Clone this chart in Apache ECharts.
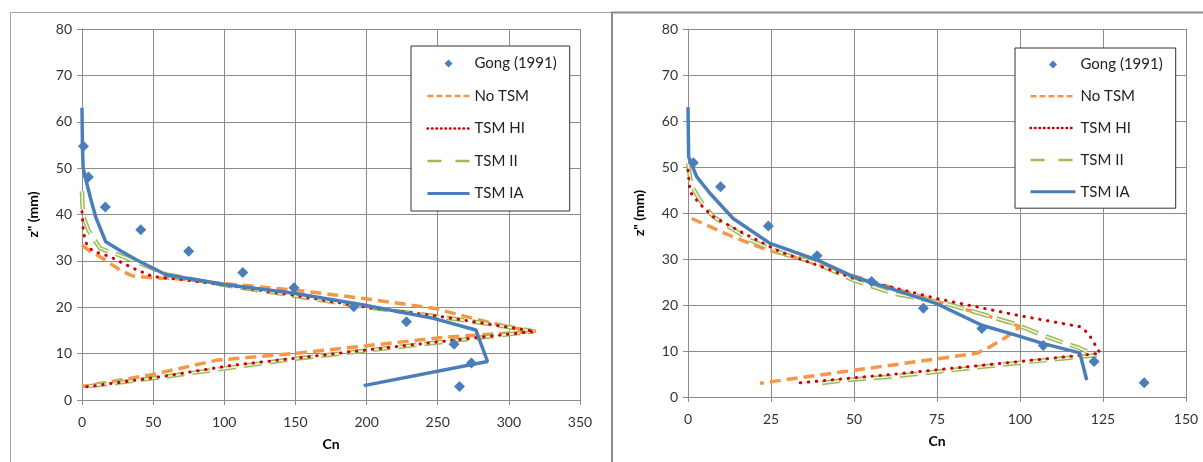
<!DOCTYPE html>
<html><head><meta charset="utf-8">
<script src="https://cdn.jsdelivr.net/npm/echarts@6/dist/echarts.min.js"></script>
<style>html,body{margin:0;padding:0;background:#fff}#c{width:1203px;height:462px}</style>
</head><body><div id="c"></div>
<script>
// ---- names / axes ----
const seriesNames = ['Gong (1991)', 'No TSM', 'TSM HI', 'TSM II', 'TSM IA'];
const xTitle = 'Cn';
const yTitle = 'z" (mm)';
const xLeftMax = 350, xLeftStep = 50;
const xRightMax = 150, xRightStep = 25;
const yMax = 80, yStep = 10;

// ---- left panel data [Cn, z] ----
const gongLeft = [[1,54.7],[4.5,48.1],[16.4,41.6],[41.3,36.7],[75,32.1],[113,27.5],[149,24.2],[191,20.1],[228,16.9],[261.5,12],[273.7,8],[265.3,2.9]];
const noTsmLeft = [[0,33.4],[5,32.2],[12.7,30.9],[20,29.4],[26.8,28],[35,26.8],[48,26.4],[69,26.1],[100,25.1],[149,23.7],[198,21.9],[247,19.8],[280,17.2],[304,15.5],[319,14.8],[257,13.6],[200,11.7],[151,10.1],[95,8.6],[48,5.4],[0,2.9]];
const tsmHiLeft = [[0,40.6],[0.8,37],[2.1,34.5],[4.5,32.8],[10,31.9],[19.7,30.9],[36,28.4],[50,26.6],[69,26],[100,24.8],[149,22.6],[198,20.1],[250,18.1],[289,16.2],[318,14.8],[261,12.9],[200.5,10.8],[150,9],[106,7.5],[55,5],[0,2.7]];
const tsmIiLeft = [[0,45],[0.3,42],[1,39.5],[4.5,36.6],[12.7,32.7],[29,30.9],[50,28.3],[60,27],[100,24.8],[149,22.5],[198,20.1],[250,18],[289,16.3],[318,14.8],[261,12.8],[150,8.9],[55,4.9],[0,2.8]];
const tsmIaLeft = [[0,63],[0.3,55],[0.8,50],[2.8,47.4],[6,43.5],[9.6,39.5],[16.7,34.1],[27,32.2],[38.5,30.2],[59,27],[100,24.9],[149,23],[198,20.5],[247,17.6],[276.8,15.1],[285,8.3],[198,3.1]];

// ---- right panel data [Cn, z] ----
const gongRight = [[1.6,50.9],[9.8,45.7],[24.2,37.2],[38.9,30.7],[55.3,25.1],[70.9,19.3],[88.5,14.9],[107,11.2],[122.3,7.7],[137.4,3.1]];
const noTsmRight = [[1.1,38.8],[13.6,34.8],[23.7,32],[31.7,30.5],[45,27.4],[57.8,24.6],[75,20.8],[90,17.7],[100,15.3],[96,13.1],[91,10.9],[87,9.5],[58,6.6],[21.7,3]];
const tsmHiRight = [[0,49.3],[0.6,44.6],[3.5,42],[7.6,39.2],[16.7,35.6],[27.7,31.6],[38.8,28.7],[49.8,25.8],[62.9,23.6],[74.9,21.4],[99,17.8],[118,15.3],[120.5,13.9],[123,10.9],[124.2,9.5],[101,7.8],[63.9,5.1],[32.7,3]];
const tsmIiRight = [[0,50.8],[1,46],[3.6,42.8],[7.6,39.2],[18.7,34.1],[29.7,30.9],[37.7,29.4],[49.8,25.4],[61.9,22.5],[77.9,20.3],[98,16],[108,13.1],[118,10.6],[123,9.1],[98,7.3],[60.8,4.4],[47.8,3.7],[39.8,3]];
const tsmIaRight = [[0,63],[0.2,52.2],[2.6,47.9],[6.6,44.3],[13.6,38.8],[24.7,33.4],[38.8,29.8],[49.8,26.2],[57.8,24.3],[63.9,22.9],[74.9,20.3],[88.5,15.6],[98,13.6],[107,11.6],[118,9.6],[120.1,3.7]];

// ---- styles ----
const FONT = 'Lato, "Liberation Sans", sans-serif';
const C_BLUE = '#4A7EBB', C_ORANGE = '#F79646', C_RED = '#D40000', C_GREEN = '#9BBB59', C_GREEN_IN = '#EEF3E3';
const GRID_C = '#8C8C8C';

function axisX(gi, max, step) {
  return {
    type: 'value', gridIndex: gi, min: 0, max: max, interval: step,
    name: xTitle, nameLocation: 'middle', nameGap: 37,
    nameTextStyle: { fontFamily: FONT, fontWeight: 'bold', fontSize: 14, color: '#000' },
    axisLine: { show: true, lineStyle: { color: GRID_C, width: 1 } },
    axisTick: { show: true, length: 5, lineStyle: { color: GRID_C } },
    axisLabel: { margin: 15, fontFamily: FONT, fontSize: 14, color: '#333' },
    splitLine: { show: true, lineStyle: { color: GRID_C, width: 1 } }
  };
}
function axisY(gi) {
  return {
    type: 'value', gridIndex: gi, min: 0, max: yMax, interval: yStep,
    name: yTitle, nameLocation: 'middle', nameGap: 42, nameRotate: 90,
    nameTextStyle: { fontFamily: FONT, fontWeight: 'bold', fontSize: 14, color: '#000' },
    axisLine: { show: true, lineStyle: { color: GRID_C, width: 1 } },
    axisTick: { show: true, length: 5, lineStyle: { color: GRID_C } },
    axisLabel: { margin: 10, fontFamily: FONT, fontSize: 14, color: '#333' },
    splitLine: { show: true, lineStyle: { color: GRID_C, width: 1 } }
  };
}
function seriesFor(idx, gong, noTsm, hi, ii, ia) {
  const base = { xAxisIndex: idx, yAxisIndex: idx, animation: false };
  return [
    Object.assign({ type: 'scatter', name: seriesNames[0], data: gong, symbol: 'diamond', symbolSize: 11,
      itemStyle: { color: C_BLUE, opacity: 1 }, z: 3 }, base),
    Object.assign({ type: 'line', name: seriesNames[1], data: noTsm, symbol: 'none',
      lineStyle: { color: C_ORANGE, width: 3.5, type: [11, 6] }, itemStyle: { color: C_ORANGE }, z: 2 }, base),
    Object.assign({ type: 'line', name: seriesNames[3], data: ii, symbol: 'none',
      lineStyle: { color: C_GREEN, width: 4.5, type: [18, 8] }, itemStyle: { color: C_GREEN }, z: 2 }, base),
    Object.assign({ type: 'line', name: 'TSM II inner', data: ii, symbol: 'none', silent: true,
      lineStyle: { color: C_GREEN_IN, width: 1.6, type: [18, 8] }, itemStyle: { color: C_GREEN_IN }, z: 2 }, base),
    Object.assign({ type: 'line', name: seriesNames[2], data: hi, symbol: 'none',
      lineStyle: { color: C_RED, width: 3, type: [0.5, 7.5], cap: 'round' }, itemStyle: { color: C_RED }, z: 2 }, base),
    Object.assign({ type: 'line', name: seriesNames[4], data: ia, symbol: 'none',
      lineStyle: { color: C_BLUE, width: 3.5 }, itemStyle: { color: C_BLUE }, z: 2 }, base)
  ];
}
const diamondIcon = 'path://M0,0M16,16M8,3.4L12.6,8L8,12.6L3.4,8Z';
const hideSym = { color: 'rgba(0,0,0,0)', opacity: 0, borderWidth: 0 };
function legendFor(left, top, w, gap, pad) {
  return {
    orient: 'vertical', left: left, top: top, itemWidth: w, itemHeight: 14, itemGap: gap,
    padding: pad, backgroundColor: '#fff', borderColor: '#333', borderWidth: 1, selectedMode: false,
    textStyle: { fontFamily: FONT, fontSize: 15, color: '#222' },
    data: [
      { name: seriesNames[0], icon: diamondIcon },
      { name: seriesNames[1], itemStyle: hideSym, lineStyle: { width: 2.5, type: [6, 3] } },
      { name: seriesNames[2], itemStyle: hideSym, lineStyle: { width: 2.5, type: [0.5, 4], cap: 'round' } },
      { name: seriesNames[3], itemStyle: hideSym, lineStyle: { width: 2.5, type: [14, 14] } },
      { name: seriesNames[4], itemStyle: hideSym, lineStyle: { width: 3 } }
    ]
  };
}

const chart = echarts.init(document.getElementById('c'), null, { renderer: 'canvas' });
chart.setOption({
  animation: false,
  backgroundColor: '#fff',
  grid: [
    { left: 82, top: 29, width: 498, height: 371 },
    { left: 688, top: 29, width: 498, height: 368 }
  ],
  xAxis: [axisX(0, xLeftMax, xLeftStep), axisX(1, xRightMax, xRightStep)],
  yAxis: [axisY(0), axisY(1)],
  legend: [
    legendFor(411, 46, 42, 17.5, [10, 13, 10, 15]),
    legendFor(1015, 48, 45, 16.8, [9, 13, 9, 14])
  ],
  graphic: [
    { type: 'rect', z: 0, silent: true, shape: { x: 10.5, y: 12.5, width: 601, height: 470 },
      style: { fill: 'none', stroke: '#A6A6A6', lineWidth: 1 } },
    { type: 'rect', z: 0, silent: true, shape: { x: 612, y: 12.5, width: 620, height: 470 },
      style: { fill: 'none', stroke: '#8C8C8C', lineWidth: 2 } }
  ],
  series: [].concat(
    seriesFor(0, gongLeft, noTsmLeft, tsmHiLeft, tsmIiLeft, tsmIaLeft),
    seriesFor(1, gongRight, noTsmRight, tsmHiRight, tsmIiRight, tsmIaRight)
  )
});
</script>
</body></html>
